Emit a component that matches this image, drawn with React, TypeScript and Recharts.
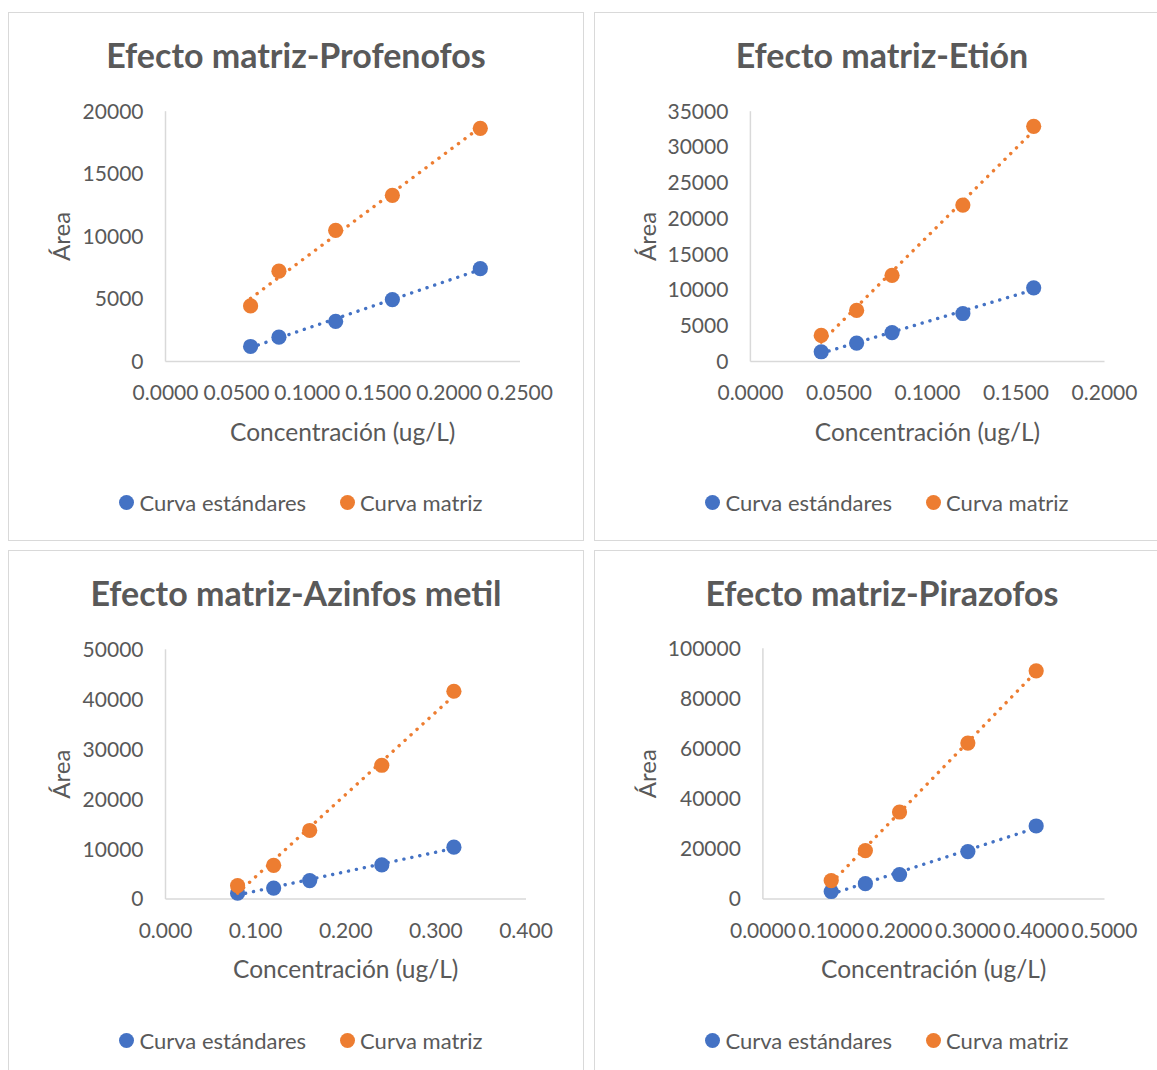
import React from 'react';
import { ScatterChart, Scatter, XAxis, YAxis, Legend } from 'recharts';

// concentraciones (ug/L) y áreas
const concProfenofos = [0.06, 0.08, 0.12, 0.16, 0.222];
const estProfenofos = [1200, 1940, 3200, 4950, 7420];
const matProfenofos = [4440, 7220, 10480, 13280, 18630];

const concEtion = [0.04, 0.06, 0.08, 0.12, 0.16];
const estEtion = [1360, 2570, 4040, 6710, 10300];
const matEtion = [3650, 7140, 12050, 21870, 32890];

const concAzinfos = [0.08, 0.12, 0.16, 0.24, 0.32];
const estAzinfos = [1160, 2180, 3690, 6830, 10380];
const matAzinfos = [2660, 6750, 13720, 26780, 41600];

const concPirazofos = [0.1, 0.15, 0.2, 0.3, 0.4];
const estPirazofos = [2990, 6100, 9770, 18910, 29120];
const matPirazofos = [7340, 19310, 34700, 62190, 91030];

const xTicksProfenofos = [0, 0.05, 0.1, 0.15, 0.2, 0.25];
const yTicksProfenofos = [0, 5000, 10000, 15000, 20000];
const xTicksEtion = [0, 0.05, 0.1, 0.15, 0.2];
const yTicksEtion = [0, 5000, 10000, 15000, 20000, 25000, 30000, 35000];
const xTicksAzinfos = [0, 0.1, 0.2, 0.3, 0.4];
const yTicksAzinfos = [0, 10000, 20000, 30000, 40000, 50000];
const xTicksPirazofos = [0, 0.1, 0.2, 0.3, 0.4, 0.5];
const yTicksPirazofos = [0, 20000, 40000, 60000, 80000, 100000];

const seriesNames = ['Curva estándares', 'Curva matriz'];
const BLUE = '#4472C4';
const ORANGE = '#ED7D31';
const TEXT = '#595959';
const GRID = '#D9D9D9';
const FONT = 'Lato, "Open Sans", sans-serif';

const W = 574;
const H = 527;

const toPoints = (xs: number[], ys: number[]) => xs.map((x, i) => ({ x, y: ys[i] }));

const AreaLabel = (props: any) => {
  const vb = props.viewBox || { y: 0, height: 0 };
  const cx = 61;
  const cy = vb.y + vb.height / 2;
  return (
    <text x={cx} y={cy} transform={`rotate(-90 ${cx} ${cy})`} textAnchor="middle"
      fill={TEXT} fontSize={24} fontFamily={FONT}>Área</text>
  );
};

const ConcLabel = (props: any) => {
  const vb = props.viewBox || { x: 0, y: 0, width: 0 };
  return (
    <text x={vb.x + vb.width / 2} y={vb.y + 79} textAnchor="middle"
      fill={TEXT} fontSize={24.5} fontFamily={FONT}>Concentración (ug/L)</text>
  );
};

const Dot = (props: any) => <circle cx={props.cx} cy={props.cy} r={7.6} fill={props.fill} />;

const LegendContent = (props: any) => (
  <div style={{ display: 'flex', justifyContent: 'center', alignItems: 'center', height: 24, paddingLeft: 10,
    boxSizing: 'border-box', fontFamily: FONT, fontSize: 22, color: TEXT, whiteSpace: 'nowrap' }}>
    {(props.payload || []).map((p: any, i: number) => (
      <span key={p.value} style={{ display: 'flex', alignItems: 'center', marginLeft: i ? 34 : 0 }}>
        <span style={{ width: 15, height: 15, borderRadius: '50%', background: p.color, marginRight: 5 }} />
        {p.value}
      </span>
    ))}
  </div>
);

type PanelProps = {
  title: string;
  left: number;
  top: number;
  conc: number[];
  est: number[];
  mat: number[];
  xTicks: number[];
  yTicks: number[];
  decimals: number;
  plotLeft: number;
  plotRight: number;
  plotTop: number;
  plotBottom: number;
};

const Panel = ({ title, left, top, conc, est, mat, xTicks, yTicks, decimals,
  plotLeft, plotRight, plotTop, plotBottom }: PanelProps) => {
  const legendH = 24;
  const mb = 26;
  const xAxisH = H - mb - legendH - plotBottom;
  const dotLine = (color: string) => ({ stroke: color, strokeWidth: 3.4, strokeDasharray: '0.1 8', strokeLinecap: 'round' as const });
  return (
    <div style={{ position: 'absolute', left, top, width: 576, height: 529, border: `1px solid ${GRID}`,
      boxSizing: 'border-box', background: '#fff' }}>
      <div style={{ position: 'absolute', left: 0, top: 25, width: W, textAlign: 'center', fontFamily: FONT,
        fontWeight: 700, fontSize: 34, lineHeight: '34px', color: TEXT, whiteSpace: 'nowrap' }}>{title}</div>
      <ScatterChart width={W} height={H} margin={{ top: plotTop, right: W - plotRight, bottom: mb, left: 0 }}>
        <XAxis type="number" dataKey="x" domain={[xTicks[0], xTicks[xTicks.length - 1]]} ticks={xTicks}
          interval={0} tickFormatter={(v: number) => v.toFixed(decimals)} tickLine={false} tickSize={0} tickMargin={24}
          axisLine={{ stroke: GRID, strokeWidth: 1.5 }} height={xAxisH}
          tick={{ fill: TEXT, fontSize: 21, fontFamily: FONT }} label={<ConcLabel />} />
        <YAxis type="number" dataKey="y" domain={[yTicks[0], yTicks[yTicks.length - 1]]} ticks={yTicks}
          interval={0} tickLine={false} tickSize={0} tickMargin={22} width={plotLeft}
          axisLine={{ stroke: GRID, strokeWidth: 1.5 }}
          tick={{ fill: TEXT, fontSize: 21, fontFamily: FONT }} label={<AreaLabel />} />
        <Legend verticalAlign="bottom" content={<LegendContent />} wrapperStyle={{ left: 0, width: W }} />
        <Scatter name={seriesNames[0]} data={toPoints(conc, est)} fill={BLUE} line={dotLine(BLUE)}
          lineType="fitting" shape={<Dot />} isAnimationActive={false} />
        <Scatter name={seriesNames[1]} data={toPoints(conc, mat)} fill={ORANGE} line={dotLine(ORANGE)}
          lineType="fitting" shape={<Dot />} isAnimationActive={false} />
      </ScatterChart>
    </div>
  );
};

export default function App() {
  return (
    <div style={{ position: 'relative', width: 1157, height: 1070, overflow: 'hidden', background: '#fff' }}>
      <style>{'body{margin:0;overflow:hidden;}'}</style>
      <Panel title="Efecto matriz-Profenofos" left={8} top={12} conc={concProfenofos} est={estProfenofos}
        mat={matProfenofos} xTicks={xTicksProfenofos} yTicks={yTicksProfenofos} decimals={4}
        plotLeft={156.5} plotRight={511} plotTop={98.2} plotBottom={348.5} />
      <Panel title="Efecto matriz-Etión" left={594} top={12} conc={concEtion} est={estEtion}
        mat={matEtion} xTicks={xTicksEtion} yTicks={yTicksEtion} decimals={4}
        plotLeft={155.4} plotRight={509.5} plotTop={98.2} plotBottom={348.5} />
      <Panel title="Efecto matriz-Azinfos metil" left={8} top={550} conc={concAzinfos} est={estAzinfos}
        mat={matAzinfos} xTicks={xTicksAzinfos} yTicks={yTicksAzinfos} decimals={3}
        plotLeft={156.5} plotRight={517} plotTop={98.3} plotBottom={348} />
      <Panel title="Efecto matriz-Pirazofos" left={594} top={550} conc={concPirazofos} est={estPirazofos}
        mat={matPirazofos} xTicks={xTicksPirazofos} yTicks={yTicksPirazofos} decimals={4}
        plotLeft={167.9} plotRight={509.5} plotTop={97.3} plotBottom={348} />
    </div>
  );
}
